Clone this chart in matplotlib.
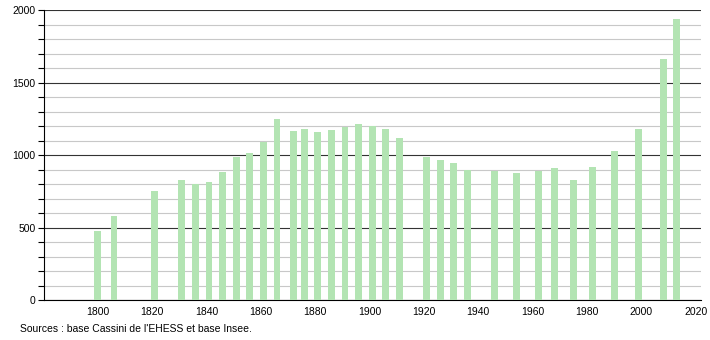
import matplotlib
matplotlib.use("Agg")
import matplotlib.pyplot as plt
from matplotlib.ticker import MultipleLocator

# census years and population
years = [1800, 1806, 1821, 1831, 1836, 1841, 1846, 1851, 1856, 1861,
         1866, 1872, 1876, 1881, 1886, 1891, 1896, 1901, 1906, 1911,
         1921, 1926, 1931, 1936, 1946, 1954, 1962, 1968, 1975, 1982,
         1990, 1999, 2008, 2013]
population = [476, 580, 752, 828, 800, 815, 884, 986, 1015, 1093,
              1252, 1169, 1181, 1162, 1176, 1194, 1215, 1201, 1183, 1121,
              987, 967, 946, 897, 893, 875, 893, 911, 828, 918,
              1029, 1181, 1664, 1940]
x_ticks = [1800, 1820, 1840, 1860, 1880, 1900, 1920, 1940, 1960, 1980, 2000, 2020]
source_text = "Sources : base Cassini de l'EHESS et base Insee."

plt.rcParams['font.family'] = ['Liberation Sans', 'DejaVu Sans']

fig = plt.figure(figsize=(7.1, 3.4), dpi=100)
ax = fig.add_axes([0.062, 0.1176, 0.925, 0.852])

# grid: light every 100, dark every 500
ax.yaxis.set_major_locator(MultipleLocator(500))
ax.yaxis.set_minor_locator(MultipleLocator(100))
ax.grid(which='minor', axis='y', color='#c8c8c8', linewidth=0.8)
ax.grid(which='major', axis='y', color='#333333', linewidth=0.8)
ax.set_axisbelow(True)

ax.bar(years, population, width=2.5, color='#b3e4b3', zorder=3)

ax.set_xlim(1780.3, 2021.8)
ax.set_ylim(0, 2000)
ax.set_xticks(x_ticks)

for side in ['top', 'right']:
    ax.spines[side].set_visible(False)
ax.spines['left'].set_color('black')
ax.spines['bottom'].set_color('black')
ax.spines['left'].set_linewidth(0.8)
ax.spines['bottom'].set_linewidth(0.8)

ax.tick_params(axis='x', length=0, labelsize=7.5, pad=5)
ax.tick_params(axis='y', which='major', length=4, labelsize=7.5, pad=2, width=0.8)
ax.tick_params(axis='y', which='minor', length=4, width=0.8)

fig.text(20 / 710, 1 - 329 / 340, source_text, fontsize=7.5, va='center', ha='left')

fig.savefig("out.png", dpi=100)
